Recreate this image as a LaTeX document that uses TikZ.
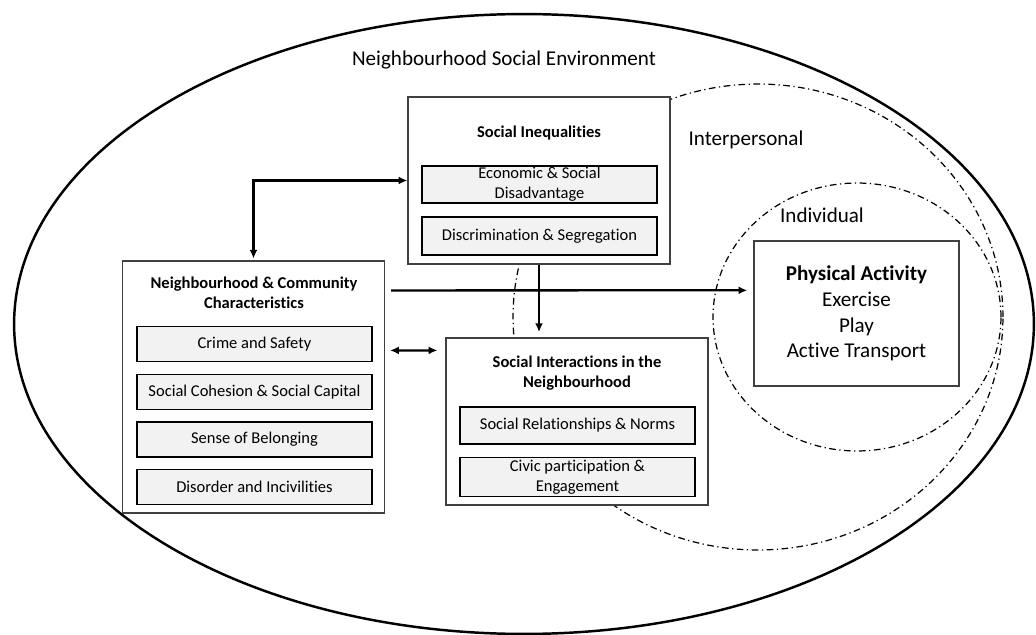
\documentclass[tikz,border=0pt]{standalone}
\usepackage{fontspec}
\setmainfont{Carlito}[Ligatures=NoCommon]
\setsansfont{Carlito}[Ligatures=NoCommon]
\usetikzlibrary{arrows.meta, positioning, calc}
\definecolor{boxline}{RGB}{64,64,64}
\definecolor{itemfill}{RGB}{242,242,242}
\definecolor{ringcolor}{RGB}{0,0,0}

\begin{document}
\begin{tikzpicture}[
    x=0.02cm, y=-0.02cm,
    >={Latex[length=5pt, width=4.5pt]},
    every node/.style={font=\sffamily\fontsize{9.4}{11.4}\selectfont},
    panel/.style={draw=boxline, fill=white, line width=0.7pt, minimum width=5.24cm, minimum height=#1},
    item/.style={draw=black, fill=itemfill, line width=1pt, minimum width=4.70cm, minimum height=#1, align=center, inner sep=0pt},
    item/.default=0.70cm,
    heading/.style={font=\sffamily\bfseries\fontsize{9.4}{11.4}\selectfont, align=center},
    tag/.style={font=\sffamily\fontsize{12}{14.6}\selectfont},
    outcome/.style={draw=boxline, fill=white, line width=0.8pt, minimum width=4.10cm, minimum height=2.90cm, align=center, font=\sffamily\fontsize{12}{14.6}\selectfont},
    ring/.style={draw=ringcolor, line width=0.7pt, dash pattern=on 3.8pt off 2pt on 0.7pt off 2pt},
    link/.style={->, line width=1.3pt},
]
\useasboundingbox (0,0) rectangle (1036,635);

%% Levels: environment, interpersonal, individual
\draw[line width=1.4pt] (524,324) ellipse [x radius=10.2cm, y radius=6.2cm];
\draw[ring] (758,317) ellipse [x radius=4.9cm, y radius=4.66cm];
\draw[ring] (857,317) ellipse [x radius=2.88cm, y radius=2.68cm];

\node[tag] (envlabel) at (504,60) {Neighbourhood Social Environment};
\node[tag] (interlabel) at (746,140) {Interpersonal};
\node[tag] (indivlabel) at (822,215) {Individual};

%% Social Inequalities
\node[panel=3.34cm] (ineq) at (539,180.5) {};
\node[heading] (ineqtitle) at (539,133) {Social Inequalities};
\node[item=0.74cm] (econ) at (539.5,184.5) {Economic \& Social\\Disadvantage};
\node[item=0.76cm] (discr) at (539.5,236) {Discrimination \& Segregation};

%% Neighbourhood & Community Characteristics
\node[panel=5.04cm] (neigh) at (253.5,387) {};
\node[heading] (neightitle) at (254,293) {Neighbourhood \& Community\\Characteristics};
\node[item] (crime) at (254.5,344) {Crime and Safety};
\node[item] (cohesion) at (254.5,392) {Social Cohesion \& Social Capital};
\node[item] (belong) at (254.5,439.5) {Sense of Belonging};
\node[item] (disorder) at (254.5,487) {Disorder and Incivilities};

%% Social Interactions in the Neighbourhood
\node[panel=3.34cm] (inter) at (577,421.5) {};
\node[heading] (intertitle) at (577,373.5) {Social Interactions in the\\Neighbourhood};
\node[item=0.74cm] (norms) at (577.5,425.5) {Social Relationships \& Norms};
\node[item=0.78cm] (civic) at (577.5,477) {Civic participation \&\\Engagement};

%% Physical Activity
\node[outcome] (pa) at (856.5,313.5) {\textbf{Physical Activity}\\Exercise\\Play\\Active Transport};

%% Connections
\draw[link, <->, shorten <=1pt] (neigh.north) |- (ineq.west);
\draw[link, shorten >=3pt] (ineq.south) -- (ineq.south |- inter.north);
\draw[link] ($(neigh.north east)+(6,30)$) -- ($(pa.north west)+(-6,50)$);
\draw[link, <->] ($(neigh.north east)+(5,90)$) -- ($(inter.north west)+(-8,13)$);

\end{tikzpicture}
\end{document}
